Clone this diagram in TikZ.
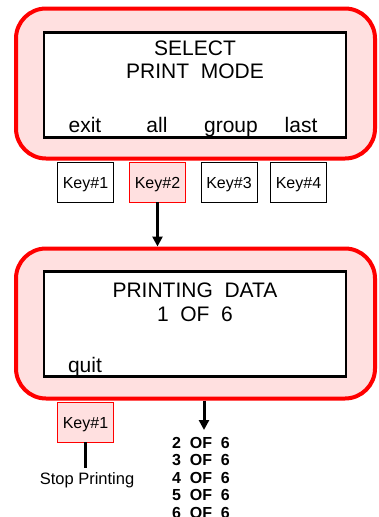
\documentclass[tikz,border=0pt]{standalone}
\usepackage{fontspec}
\setmainfont{Liberation Sans}
\usetikzlibrary{arrows.meta}
\definecolor{pinkfill}{RGB}{255,224,224}
\definecolor{redline}{RGB}{255,0,0}
\tikzset{
  panel/.style={draw=redline, fill=pinkfill, line width=4pt, rounded corners=30pt,
    minimum width=359pt, minimum height=150pt, inner sep=0pt},
  screen/.style={draw=black, fill=white, line width=2.5pt,
    minimum width=302pt, minimum height=105pt, inner sep=0pt},
  bigtxt/.style={font=\fontsize{21}{25}\selectfont, anchor=base, inner sep=0pt},
  keybox/.style={draw=black, fill=white, line width=0.7pt, minimum width=56pt, minimum height=40pt, inner sep=0pt},
  keyon/.style={keybox, draw=redline, fill=pinkfill},
  keytxt/.style={font=\fontsize{16}{19}\selectfont, anchor=base, inner sep=0pt},
  listtxt/.style={font=\fontsize{16}{19}\selectfont\bfseries, anchor=base, inner sep=0pt},
  thick arrow/.style={line width=3pt, -{Triangle[length=10pt,width=10pt]}},
}
\begin{document}
\begin{tikzpicture}[x=1pt,y=-1pt]
\useasboundingbox (0,0) rectangle (379,517);
% top panel
\node[panel] (p1) at (195.5,83.5) {};
\node[screen] (s1) at (195,85) {};
\node[bigtxt] (t1) at (195,55) {SELECT};
\node[bigtxt] (t2) at (195,78) {PRINT\ \ MODE};
\node[bigtxt] (sk1) at (85,132) {exit};
\node[bigtxt] (sk2) at (157,132) {all};
\node[bigtxt] (sk3) at (231,132) {group};
\node[bigtxt] (sk4) at (301,132) {last};
% keys
\node[keybox] (k1) at (85.5,182) {};
\node[keyon] (k2) at (157.5,182) {};
\node[keybox] (k3) at (229,182) {};
\node[keybox] (k4) at (298.5,182) {};
\node[keytxt] (kt1) at (k1.center |- 0,188) {Key\#1};
\node[keytxt] (kt2) at (k2.center |- 0,188) {Key\#2};
\node[keytxt] (kt3) at (k3.center |- 0,188) {Key\#3};
\node[keytxt] (kt4) at (k4.center |- 0,188) {Key\#4};
% bottom panel
\node[panel] (p2) at (195.5,323.5) {};
\node[screen] (s2) at (195,324) {};
\node[bigtxt] (t3) at (195,297) {PRINTING\ \ DATA};
\node[bigtxt] (t4) at (195,321) {1\ \ OF\ \ 6};
\node[bigtxt] (sk5) at (85,372) {quit};
\draw[thick arrow] (k2.south) -- (k2.south |- p2.north);
% lower key
\node[keyon] (k5) at (85.5,422) {};
\node[keytxt] (kt5) at (k5.center |- 0,428) {Key\#1};
\coordinate (stopend) at (85.5,468);
\draw[line width=3pt] (k5.south) -- (stopend);
\node[keytxt, font=\fontsize{16.5}{19}\selectfont] (stop) at (87,484) {Stop Printing};
% progress list
\coordinate (arrstart) at ([xshift=8.5pt]p2.south);
\coordinate (arrend) at (204,430);
\draw[thick arrow] (arrstart) -- (arrend);
\foreach \i in {2,...,6} {
  \node[listtxt] (l\i) at (201,{448+(\i-2)*17.5}) {\i\ \ OF\ \ 6};
}
\end{tikzpicture}
\end{document}
